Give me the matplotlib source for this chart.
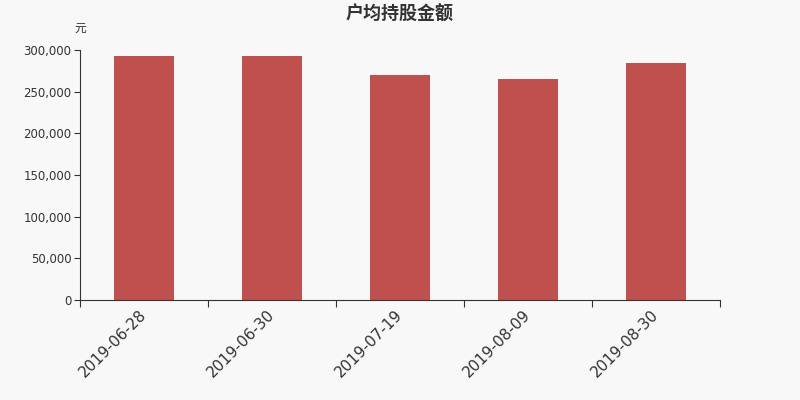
import numpy as np
import matplotlib.pyplot as plt

plt.rcParams['font.family'] = ['Noto Sans CJK SC', 'DejaVu Sans']

dates = ['2019-06-28', '2019-06-30', '2019-07-19', '2019-08-09', '2019-08-30']
amounts = [292800, 292800, 270400, 264800, 284800]
yticks = [0, 50000, 100000, 150000, 200000, 250000, 300000]

bg = '#f8f8f8'
fig = plt.figure(figsize=(8, 4), dpi=100, facecolor=bg)
ax = fig.add_axes([0.1, 0.25, 0.8, 0.625], facecolor=bg)

x = np.arange(len(dates))
ax.bar(x, amounts, width=0.47, color='#c0504d')

ax.set_xlim(-0.5, len(dates) - 0.5)
ax.set_ylim(0, 300000)
ax.set_yticks(yticks)
ax.set_yticklabels(['{:,}'.format(v) for v in yticks], fontsize=8.5, color='#333333',
                   family='DejaVu Sans')

ax.set_xticks(np.arange(len(dates) + 1) - 0.5)
ax.set_xticklabels([])
ax.set_xticks(x, minor=True)
ax.set_xticklabels(dates, minor=True, rotation=45, ha='right', va='center',
                   rotation_mode='anchor', fontsize=11, color='#333333',
                   family='DejaVu Sans')
ax.tick_params(axis='x', which='minor', length=0, pad=9)
ax.tick_params(axis='x', which='major', length=5, color='#333333')
ax.tick_params(axis='y', length=4, color='#333333', pad=2)

for s in ['top', 'right']:
    ax.spines[s].set_visible(False)
for s in ['left', 'bottom']:
    ax.spines[s].set_color('#333333')

fig.text(0.5, 0.965, '户均持股金额', ha='center', va='center', fontsize=13,
         fontweight='bold', color='#333333')
fig.text(0.1, 0.93, '元', ha='center', va='center', fontsize=8.5, color='#333333')

fig.savefig('out.png', facecolor=bg)
